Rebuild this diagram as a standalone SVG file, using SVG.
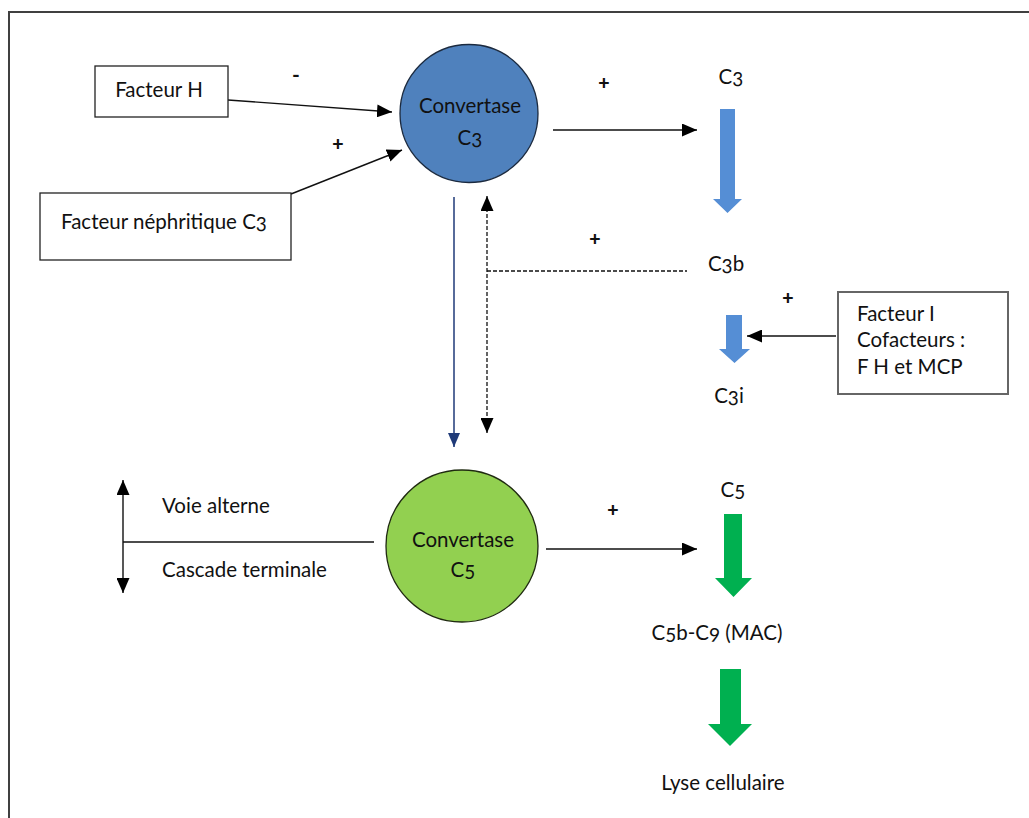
<svg xmlns="http://www.w3.org/2000/svg" width="1029" height="818" viewBox="0 0 1029 818">
<defs>
<style>
text{font-family:Lato,"Liberation Sans",sans-serif;font-size:20.5px;fill:#111;font-feature-settings:"onum" 1;}
.mid{text-anchor:middle;}
.sign{font-size:21px;font-weight:bold;}
.box{fill:#fff;stroke:#222;stroke-width:1.3;}
.box2{fill:#fff;stroke:#666;stroke-width:2;}
.ln{fill:none;stroke:#111;stroke-width:1.4;}
.dash{fill:none;stroke:#111;stroke-width:1.3;stroke-dasharray:4 2;}
.navy{fill:none;stroke:#1F3A78;stroke-width:1.5;}
.blue{fill:#558ED5;}
.green{fill:#00B050;}
</style>
<marker id="ahL" viewBox="0 0 10 10" refX="10" refY="5" markerWidth="15" markerHeight="13" markerUnits="userSpaceOnUse" orient="auto-start-reverse" preserveAspectRatio="none">
<path d="M0,0 L10,5 L0,10 Z" fill="#000"/>
</marker>
<marker id="ahN" viewBox="0 0 10 10" refX="10" refY="5" markerWidth="14" markerHeight="12" markerUnits="userSpaceOnUse" orient="auto" preserveAspectRatio="none">
<path d="M0,0 L10,5 L0,10 Z" fill="#1F3A78"/>
</marker>
</defs>
<rect width="1029" height="818" fill="#fff"/>
<path d="M9,830 V12 H1040" fill="none" stroke="#404040" stroke-width="2"/>

<g id="connectors">
<line class="ln" x1="228" y1="100" x2="392" y2="112" marker-end="url(#ahL)"/>
<line class="ln" x1="291" y1="194" x2="402" y2="150" marker-end="url(#ahL)"/>
<line class="ln" x1="553" y1="130" x2="697" y2="130" marker-end="url(#ahL)"/>
<line class="navy" x1="454" y1="197" x2="454" y2="447" marker-end="url(#ahN)"/>
<line class="dash" x1="487" y1="196" x2="487" y2="433" marker-start="url(#ahL)" marker-end="url(#ahL)"/>
<line class="dash" x1="487" y1="271" x2="687" y2="271"/>
<line class="ln" x1="836" y1="336" x2="747" y2="336" marker-end="url(#ahL)"/>
<line class="ln" x1="546" y1="549" x2="697" y2="549" marker-end="url(#ahL)"/>
<line class="ln" x1="123" y1="480" x2="123" y2="593" marker-start="url(#ahL)" marker-end="url(#ahL)"/>
<line class="ln" x1="123" y1="542" x2="374" y2="542"/>
<polygon class="blue" points="720,109 735,109 735,199 742,199 727.5,213 713,199 720,199"/>
<polygon class="blue" points="726,315 742,315 742,349 750,349 734.5,363 719,349 726,349"/>
<polygon class="green" points="724,514 742,514 742,578 752,578 733.5,597 715,578 724,578"/>
<polygon class="green" points="720,669 741,669 741,724 752,724 730,746 708,724 720,724"/>
<text class="sign mid" x="296" y="82">-</text>
<text class="sign mid" x="338" y="150">+</text>
<text class="sign mid" x="604" y="89">+</text>
<text class="sign mid" x="595" y="245">+</text>
<text class="sign mid" x="788" y="304">+</text>
<text class="sign mid" x="613" y="516">+</text>
</g>

<g id="facteurH">
<rect class="box" x="95" y="66" width="133" height="51"/>
<text class="mid" x="159" y="97">Facteur H</text>
</g>
<g id="nephritique">
<rect class="box" x="40" y="193" width="251" height="67"/>
<text class="mid" x="164" y="229">Facteur néphritique C3</text>
</g>
<g id="convertaseC3">
<circle cx="469" cy="113.5" r="69" fill="#4F81BD" stroke="#1b2a3f" stroke-width="1.3"/>
<text class="mid" x="470" y="113">Convertase</text>
<text class="mid" x="470" y="145">C3</text>
</g>
<g id="C3"><text class="mid" x="731" y="84">C3</text></g>
<g id="C3b"><text class="mid" x="726" y="271">C3b</text></g>
<g id="C3i"><text class="mid" x="729" y="403">C3i</text></g>
<g id="facteurI">
<rect class="box2" x="838" y="292" width="170" height="102"/>
<text x="857" y="321">Facteur I</text>
<text x="857" y="347">Cofacteurs :</text>
<text x="857" y="374">F H et MCP</text>
</g>
<g id="convertaseC5">
<circle cx="462" cy="546" r="76" fill="#92D050" stroke="#1f2a10" stroke-width="1.3"/>
<text class="mid" x="463" y="547">Convertase</text>
<text class="mid" x="463" y="577">C5</text>
</g>
<g id="voie">
<text x="162" y="513">Voie alterne</text>
<text x="162" y="577">Cascade terminale</text>
</g>
<g id="C5"><text class="mid" x="733" y="497">C5</text></g>
<g id="MAC"><text class="mid" x="717" y="640">C5b-C9 (MAC)</text></g>
<g id="lyse"><text class="mid" x="723" y="790">Lyse cellulaire</text></g>
</svg>
